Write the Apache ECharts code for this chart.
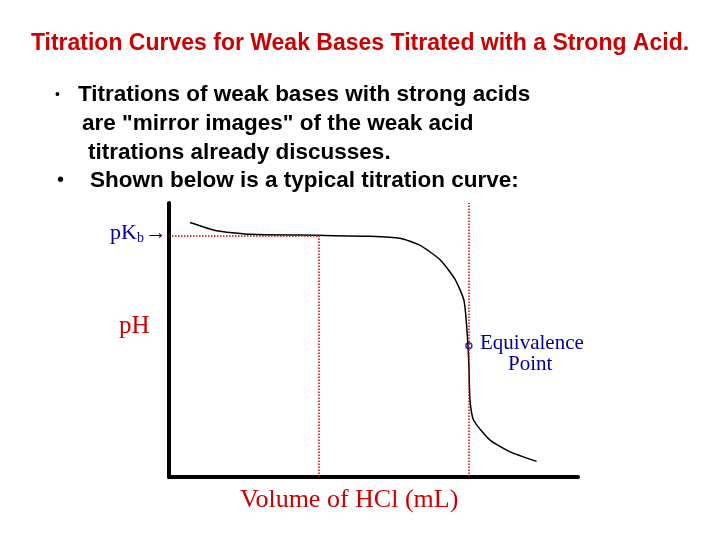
<!DOCTYPE html><html><head><meta charset="utf-8"><script src="https://cdn.jsdelivr.net/npm/echarts@6/dist/echarts.min.js"></script></head><body style="margin:0"><div id="c" style="width:720px;height:540px"></div><script>
const curveX=[3.5,7.7,13.5,24.8,33.5,38.5,41.8,45.2,47.7,49.2,49.8,50,50.2,50.8,53.5,56.8,61.3];
const curveY=[13.0,12.6,12.4,12.35,12.3,12.2,11.85,11.1,10.1,9.0,7.0,5.7,3.9,2.9,1.9,1.3,0.8];
const pKb=12.35, halfEq=25, eqX=50, eqY=6.7;
const c=echarts.init(document.getElementById('c'));
const red='#cc0000', blue='#000099';
c.setOption({animation:false,
grid:{left:169,right:142,top:203,bottom:63},
xAxis:{type:'value',min:0,max:68.2,axisLine:{lineStyle:{color:'#000',width:4}},axisTick:{show:false},axisLabel:{show:false},splitLine:{show:false}},
yAxis:{type:'value',min:0,max:14,axisLine:{show:true,lineStyle:{color:'#000',width:4}},axisTick:{show:false},axisLabel:{show:false},splitLine:{show:false}},
series:[{type:'line',data:curveX.map((x,i)=>[x,curveY[i]]),smooth:0.2,showSymbol:false,lineStyle:{color:'#000',width:1.5},
 markLine:{silent:true,symbol:'none',label:{show:false},lineStyle:{color:red,type:'dotted',width:1.5},data:[
  [{coord:[0,pKb]},{coord:[halfEq,pKb]}],
  [{coord:[halfEq,0]},{coord:[halfEq,pKb]}],
  [{coord:[eqX,0]},{coord:[eqX,14]}]]}},
 {type:'scatter',data:[[eqX,eqY]],symbol:'circle',symbolSize:6,itemStyle:{color:'#fff',borderColor:blue,borderWidth:1.5}}],
graphic:[
 {type:'text',left:'center',top:32,style:{text:'Titration Curves for Weak Bases Titrated with a Strong Acid.',fill:red,font:'bold 23px "Liberation Sans", Arial'}},
 {type:'text',left:55,top:88,style:{text:'•',fill:'#000',font:'14px "Liberation Sans"'}},
 {type:'text',left:78,top:83,style:{text:'Titrations of weak bases with strong acids',fill:'#000',font:'bold 22.5px "Liberation Sans"'}},
 {type:'text',left:82,top:112,style:{text:'are "mirror images" of the weak acid',fill:'#000',font:'bold 22.5px "Liberation Sans"'}},
 {type:'text',left:88,top:141,style:{text:'titrations already discusses.',fill:'#000',font:'bold 22.5px "Liberation Sans"'}},
 {type:'text',left:57,top:170,style:{text:'•',fill:'#000',font:'20px "Liberation Sans"'}},
 {type:'text',left:90,top:169,style:{text:'Shown below is a typical titration curve:',fill:'#000',font:'bold 22.5px "Liberation Sans"'}},
 {type:'text',left:110,top:222,style:{text:'pK',fill:blue,font:'22px "Liberation Serif"'}},
 {type:'text',left:137,top:231,style:{text:'b',fill:blue,font:'14px "Liberation Serif"'}},
 {type:'text',left:145,top:222,style:{text:'→',fill:blue,font:'22px "Liberation Serif"'}},
 {type:'text',left:119,top:314,style:{text:'pH',fill:red,font:'25px "Liberation Serif"'}},
 {type:'text',left:480,top:333,style:{text:'Equivalence',fill:blue,font:'21px "Liberation Serif"'}},
 {type:'text',left:508,top:354,style:{text:'Point',fill:blue,font:'21px "Liberation Serif"'}},
 {type:'text',left:240,top:487,style:{text:'Volume of HCl (mL)',fill:red,font:'26px "Liberation Serif"'}}
]});
</script></body></html>
